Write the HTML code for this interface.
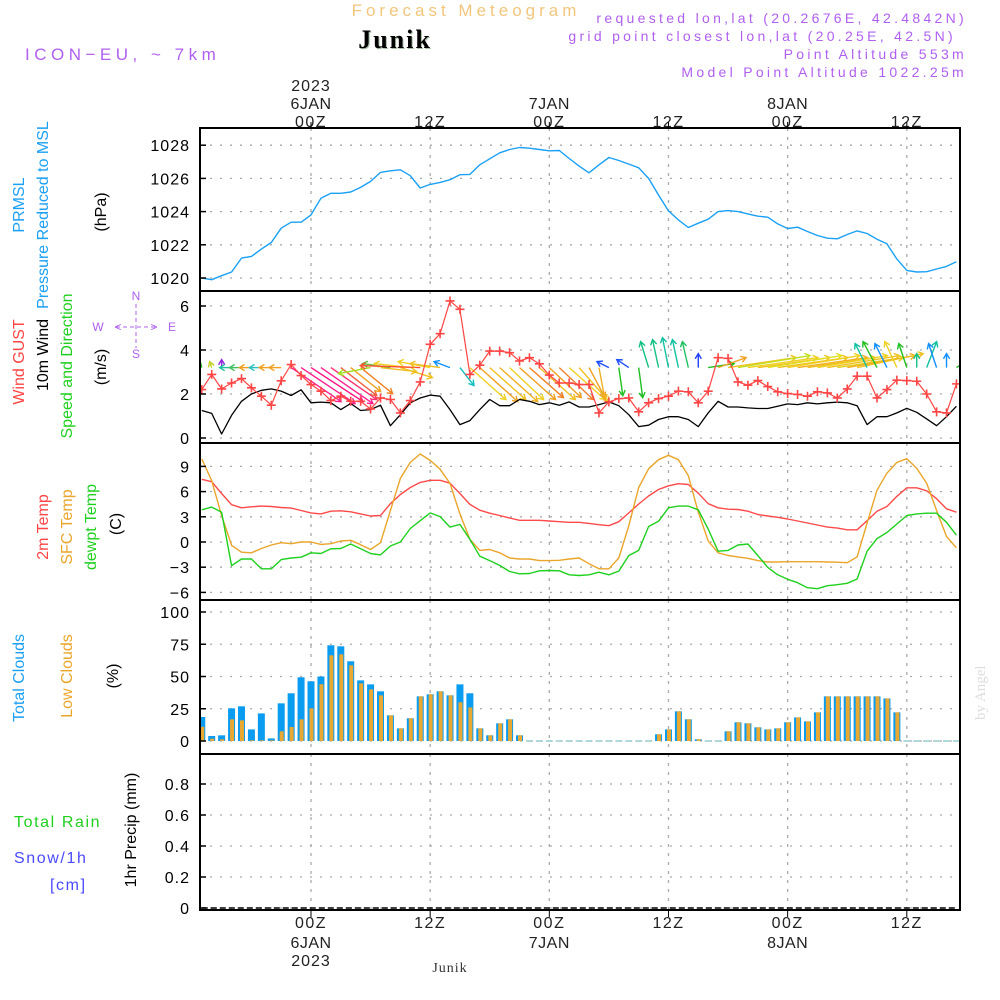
<!DOCTYPE html>
<html><head><meta charset="utf-8"><title>Forecast Meteogram Junik</title>
<style>
html,body{margin:0;padding:0;background:#fff;}
svg{display:block;font-family:"Liberation Sans",sans-serif;}
</style></head>
<body>
<svg id="chart" width="1000" height="1000" viewBox="0 0 1000 1000" xmlns="http://www.w3.org/2000/svg">
<text x="466" y="16" font-size="17" fill="#f2c67c" text-anchor="middle" letter-spacing="4">Forecast Meteogram</text>
<text x="396" y="49" font-size="26" font-weight="bold" font-family="Liberation Serif,serif" fill="#a8c0a8" text-anchor="middle" letter-spacing="2">Junik</text>
<text x="395" y="48" font-size="26" font-weight="bold" font-family="Liberation Serif,serif" fill="#000" text-anchor="middle" letter-spacing="2">Junik</text>
<text x="25" y="60" font-size="17" fill="#b060f0" letter-spacing="4.5">ICON−EU, ~ 7km</text>
<g font-size="14" fill="#b060f0" text-anchor="end" letter-spacing="3.3">
<text x="967" y="23">requested lon,lat (20.2676E, 42.4842N)</text>
<text x="956" y="41">grid point closest lon,lat (20.25E, 42.5N)</text>
<text x="967" y="59">Point Altitude 553m</text>
<text x="967" y="77">Model Point Altitude 1022.25m</text>
</g>
<text x="0" y="0" transform="translate(985,720) rotate(-90)" font-size="15" fill="#ddd" font-family="Liberation Serif,serif">by Angel</text>
<text x="450" y="972" font-size="14" fill="#333" font-family="Liberation Serif,serif" text-anchor="middle" letter-spacing="1">Junik</text>
<g id="labels" font-size="16"></g>
<g id="grid"></g>
<g id="marks"></g>
<g id="frames"></g>
</svg>
<script>
// ---- data (hourly, from 13Z 5JAN to 17Z 8JAN) ----
const hours = [];
for (let h = -11; h <= 65; h++) hours.push(h);
const pressure = [1020.0,1019.9,1020.14,1020.36,1021.2,1021.3,1021.74,1022.14,1023.0,1023.36,1023.36,1023.8,1024.8,1025.1,1025.1,1025.18,1025.46,1025.82,1026.36,1026.46,1026.52,1026.16,1025.42,1025.64,1025.76,1025.92,1026.22,1026.24,1026.82,1027.18,1027.54,1027.74,1027.86,1027.82,1027.74,1027.66,1027.68,1027.2,1026.74,1026.34,1026.82,1027.26,1027.08,1026.86,1026.64,1026.0,1025.0,1024.04,1023.5,1023.04,1023.3,1023.54,1024.0,1024.06,1024.0,1023.86,1023.72,1023.66,1023.26,1022.98,1023.06,1022.8,1022.56,1022.4,1022.36,1022.62,1022.84,1022.68,1022.34,1022.06,1021.14,1020.46,1020.36,1020.38,1020.54,1020.7,1020.98];
const windSpeed = [1.25,1.12,0.18,1.03,1.67,2.0,2.17,2.23,2.13,1.93,2.19,1.6,1.63,1.6,1.29,1.57,1.25,1.29,1.49,0.56,1.06,1.6,1.82,1.95,1.9,1.29,0.61,0.79,1.29,1.75,1.47,1.47,1.75,1.67,1.52,1.6,1.49,1.64,1.41,1.41,1.52,1.64,1.47,1.06,0.52,0.58,0.84,0.97,0.97,0.84,0.52,1.14,1.67,1.41,1.41,1.37,1.34,1.34,1.44,1.55,1.52,1.6,1.55,1.6,1.63,1.6,1.47,0.61,0.97,0.97,1.14,1.35,1.17,0.87,0.56,0.97,1.44];
const windGust = [2.2,2.89,2.23,2.5,2.7,2.28,1.9,1.49,2.6,3.34,2.84,2.43,2.13,1.7,1.9,1.67,1.67,1.32,1.82,1.75,1.14,1.7,2.55,4.26,4.74,6.23,5.85,2.89,3.31,3.95,3.95,3.88,3.5,3.65,3.37,2.86,2.5,2.5,2.43,2.43,1.14,1.64,1.79,1.82,1.19,1.6,1.79,1.9,2.13,2.1,1.6,2.13,3.65,3.62,2.55,2.4,2.61,2.34,2.1,2.02,1.98,1.9,2.1,2.05,1.82,2.23,2.81,2.81,1.82,2.2,2.63,2.61,2.58,2.0,1.19,1.14,2.46];
const windU = [-0.3,-0.1,0,-0.6,-0.6,-0.6,-0.6,-0.6,-0.6,2.5,2.7,2.6,2.6,2.3,1.8,1.5,1.6,-1.6,1.8,-1.4,1.6,-1.8,-3.0,-1.6,-1.5,-0.8,0.7,1.8,1.9,1.8,1.9,1.7,1.8,1.7,1.8,1.6,1.7,1.8,1.5,0.8,0.3,-0.6,0.2,-0.6,0.2,-0.4,-0.3,-0.3,-0.3,-0.3,0,1.3,1.4,3.4,3.6,3.5,3.6,3.7,3.5,3.6,3.5,3.4,3.5,3.6,3.3,3.4,3.3,-0.6,-0.7,-0.6,-0.6,-0.4,0,0.5,-0.4,0,0.6];
const windV = [1.2,0.3,0.4,0,0,0,0,0,0,-1.7,-1.8,-1.7,-1.8,-1.6,-1.4,-1.2,-1.3,-0.3,-0.2,0.2,-0.5,0.2,0.1,0.3,0.2,0.3,-0.9,-1.6,-1.7,-1.6,-1.7,-1.6,-1.6,-1.5,-1.6,-1.5,-1.6,-1.6,-1.7,-1.5,-1.6,0.3,-1.4,0.4,-1.5,1.3,1.4,1.5,1.4,1.3,0.7,0.2,0.5,0.5,0.6,0.5,0.5,0.6,0.5,0.6,0.5,0.5,0.6,0.6,0.5,0.6,0.7,1.2,1.3,1.2,1.3,1.2,0.7,1.3,1.2,0.7,0.4];
const arrowColor = ['#20c020','#c0d020','#9020e0','#20c0a0','#40c060','#f0a020','#30c0c0','#f0a020','#f0a020','#ff2090','#ff2090','#ff1080','#ff2090','#ff3070','#f06040','#f0a020','#f08020','#a0e020','#f0c020','#60c040','#f0c020','#f0d020','#ff5030','#f0d020','#f0c020','#1090ff','#10c0c0','#f0d020','#f0a020','#f0c020','#f0b020','#f0d020','#f0a020','#f08020','#f0c020','#f0a020','#f08030','#f0d020','#f0c020','#f0a020','#f0b020','#2050ff','#20c020','#2050ff','#20c020','#10c080','#10c080','#10c0a0','#10c0a0','#20c060','#2040ff','#20c020','#f0a020','#f0c020','#c0e020','#f0d020','#f0c020','#e0e020','#f0c020','#f0d020','#f0b020','#f0c020','#f0d020','#f0c020','#e0d020','#f0b020','#f0c020','#10c0a0','#20c020','#1090ff','#f0d020','#20c020','#10c080','#10c0a0','#1090ff','#1090ff','#20c020'];
const temp2m = [7.46,7.18,5.77,4.44,4.07,4.19,4.27,4.23,4.11,4.03,3.75,3.47,3.35,3.67,3.71,3.59,3.35,3.1,3.15,4.56,5.65,6.49,7.1,7.34,7.34,7.0,5.77,4.48,3.79,3.43,3.15,2.86,2.58,2.58,2.58,2.5,2.42,2.34,2.34,2.22,2.06,1.94,2.42,3.47,4.52,5.48,6.25,6.69,6.94,6.85,5.81,4.56,4.07,3.91,3.87,3.67,3.27,3.1,2.94,2.74,2.5,2.26,2.02,1.77,1.65,1.45,1.45,2.54,3.67,4.23,5.44,6.45,6.45,6.09,5.16,3.95,3.55];
const tempSfc = [9.88,7.3,3.15,-0.4,-1.21,-1.29,-0.77,-0.36,-0.08,-0.2,0,0,-0.28,-0.2,0.12,0.2,-0.32,-0.89,-0.08,3.75,7.58,9.48,10.48,9.72,8.67,6.98,3.35,0.32,-1.0,-0.89,-1.29,-1.9,-2.02,-2.02,-2.22,-2.22,-2.18,-2.02,-1.9,-2.58,-3.19,-3.19,-1.9,1.94,6.49,8.71,9.8,10.32,9.8,7.9,3.55,0.12,-1.29,-1.61,-1.77,-1.94,-2.22,-2.38,-2.38,-2.35,-2.35,-2.35,-2.35,-2.38,-2.4,-2.46,-1.77,2.26,6.17,8.19,9.48,9.92,8.79,6.98,3.75,0.65,-0.69];
const dewpt = [3.83,4.15,3.55,-2.82,-2.02,-2.02,-3.19,-3.19,-2.1,-1.9,-1.81,-1.29,-1.37,-0.81,-0.77,-0.24,-0.81,-1.37,-1.53,-0.48,0,1.61,2.54,3.47,3.02,1.77,2.1,0.32,-1.69,-2.22,-2.78,-3.51,-3.79,-3.75,-3.43,-3.39,-3.43,-3.91,-3.99,-3.91,-3.59,-3.91,-3.47,-1.61,-1.0,1.85,2.46,4.07,4.27,4.27,3.83,1.53,-1.09,-1.0,-0.36,-0.24,-1.61,-3.02,-3.91,-4.44,-4.84,-5.44,-5.56,-5.2,-5.08,-4.92,-4.4,-1.09,0.4,1.13,2.14,3.15,3.35,3.43,3.43,2.34,0.81];
const cloudTotal = [18.6,3.9,4.4,25.3,26.9,9,21.4,2,29.2,37,49.4,46.3,50,74.2,73.4,61.8,47,43.9,38.5,19.9,9.8,17.6,34.6,36.2,38.5,35.4,43.9,37,9.8,4.4,13.7,16.8,4.4,0,0,0,0,0,0,0,0,0,0,0,0,0,5.2,9,23,16.8,1.3,0,0,7.5,14.5,13.7,10.6,9,9.8,14.5,18.3,15.2,22.2,34.6,34.6,34.6,34.6,34.6,34.6,33,22.2,0,0,0,0,0,0];
const cloudLow = [11,1.8,1.3,16.8,16,0.5,0.5,0.5,7.5,10.9,16.8,25.3,44,66.4,67.2,58.7,44.7,40,35.4,19.9,9.8,17.6,34.6,36.2,38.5,35.4,30,26,9.8,4.4,13.7,16.8,4.4,0,0,0,0,0,0,0,0,0,0,0,0,0,5.2,9,23,16.8,1.3,0,0,7.5,14.5,13.7,10.6,9,9.8,14.5,18.3,15.2,22.2,34.6,34.6,34.6,34.6,34.6,34.6,33,22.2,0,0,0,0,0,0];
const precip = hours.map(() => 0);
const pTicks = [1020,1022,1024,1026,1028];
const wTicks = [0,2,4,6];
const tTicks = [-6,-3,0,3,6,9];
const cTicks = [0,25,50,75,100];
const rTicks = [0,0.2,0.4,0.6,0.8];
const rTickLabels = ['0','0.2','0.4','0.6','0.8'];
const timeGrid = [0,12,24,36,48,60];
const timeLabels = ['00Z','12Z','00Z','12Z','00Z','12Z'];
const dayLabels = ['6JAN','','7JAN','','8JAN',''];

// ---- scales ----
const X0 = 200, X1 = 960;
const xs = h => 311 + h * 9.93;
const yP = v => 278 - (v - 1020) * 16.6;
const yW = v => 438 - v * 22;
const yT = v => 542 - v * 8.4;
const yC = v => 741 - v * 1.29;
const yR = v => 908 - v * 155;
const panels = [[128,291],[291,443],[443,600],[600,754],[754,910]];

const NS = 'http://www.w3.org/2000/svg';
function mk(tag, attrs, parent) {
  const e = document.createElementNS(NS, tag);
  for (const k in attrs) e.setAttribute(k, attrs[k]);
  parent.appendChild(e);
  return e;
}
const grid = document.getElementById('grid');
const marks = document.getElementById('marks');
const frames = document.getElementById('frames');
const labels = document.getElementById('labels');

function yAxis(ticks, sc, texts, name) {
  ticks.forEach((t, i) => {
    const y = sc(t);
    const g = mk('line', {x1: X0, x2: X1, y1: y, y2: y, stroke: '#aaa', 'stroke-width': 1.3, 'stroke-dasharray': '2,8'}, grid);
    
    
    const tk = mk('line', {x1: X0, x2: X0 + 6, y1: y, y2: y, stroke: '#000', 'stroke-width': 1.5}, frames);
    
    
    const tx = mk('text', {x: 190, y: y + 6, 'text-anchor': 'end', 'font-size': 16, fill: '#000', 'letter-spacing': 1}, labels);
    tx.textContent = texts ? texts[i] : String(t);
    
    
  });
}
yAxis(pTicks, yP, null, 'pressure-axis');
yAxis(wTicks, yW, null, 'wind-axis');
yAxis(tTicks, yT, tTicks.map(t => t < 0 ? '−' + (-t) : String(t)), 'temp-axis');
yAxis(cTicks, yC, null, 'cloud-axis');
yAxis(rTicks, yR, rTickLabels, 'precip-axis');

timeGrid.forEach((h, i) => {
  const x = xs(h);
  panels.forEach(p => {
    const g = mk('line', {x1: x, x2: x, y1: p[0], y2: p[1], stroke: '#aaa', 'stroke-width': 1.3, 'stroke-dasharray': '3,6'}, grid);
    
    
  });
  [[128, 122], [910, 917]].forEach(([yy, y2]) => {
    const tk = mk('line', {x1: x, x2: x, y1: yy, y2: y2, stroke: '#000', 'stroke-width': 1}, frames);
    
    
  });
  const t1 = mk('text', {x: x, y: 127, 'text-anchor': 'middle', 'font-size': 16, fill: '#222', 'letter-spacing': 1.5}, labels);
  t1.textContent = timeLabels[i];
  
  
  const t2 = mk('text', {x: x, y: 928, 'text-anchor': 'middle', 'font-size': 16, fill: '#222', 'letter-spacing': 1.5}, labels);
  t2.textContent = timeLabels[i];
  
  
  if (dayLabels[i]) {
    const d1 = mk('text', {x: x, y: 109, 'text-anchor': 'middle', 'font-size': 16, fill: '#222', 'letter-spacing': 0.5}, labels);
    d1.textContent = dayLabels[i];
    
    
    const d2 = mk('text', {x: x, y: 948, 'text-anchor': 'middle', 'font-size': 16, fill: '#222', 'letter-spacing': 0.5}, labels);
    d2.textContent = dayLabels[i];
    
    
  }
});
[[91, 'top-year-label'], [966, 'bottom-year-label']].forEach(([yy, nm]) => {
  const t = mk('text', {x: xs(0), y: yy, 'text-anchor': 'middle', 'font-size': 16, fill: '#222', 'letter-spacing': 1}, labels);
  t.textContent = '2023';
  
  
});

const defs = mk('defs', {}, marks);
const cp = mk('clipPath', {id: 'plotclip'}, defs);
mk('rect', {x: X0, y: 128, width: X1 - X0, height: 782}, cp);
const body = mk('g', {'clip-path': 'url(#plotclip)'}, marks);

function line(vals, sc, color, name, w, dash) {
  const d = vals.map((v, i) => (i ? 'L' : 'M') + xs(hours[i]).toFixed(1) + ',' + sc(v).toFixed(1)).join('');
  const attrs = {d: d, fill: 'none', stroke: color, 'stroke-width': w || 1.4, 'stroke-linejoin': 'round'};
  if (dash) attrs['stroke-dasharray'] = dash;
  const p = mk('path', attrs, body);
  
  
}
line(pressure, yP, '#1aa0f5', 'pressure-line');
hours.forEach((h, i) => {
  const x = xs(h);
  if (cloudTotal[i] > 0) {
    const b = mk('rect', {x: x - 3.5, y: yC(cloudTotal[i]), width: 7, height: yC(0) - yC(cloudTotal[i]), fill: '#0a9cf0'}, body);
    
    
  } else {
    const z = mk('line', {x1: x - 3.5, x2: x + 3.5, y1: yC(0), y2: yC(0), stroke: '#9cc', 'stroke-width': 1.5}, body);
    
    
  }
  if (cloudLow[i] > 0) {
    const b = mk('rect', {x: x - 1.5, y: yC(cloudLow[i]), width: 4, height: yC(0) - yC(cloudLow[i]), fill: '#e8a832'}, body);
    
    
  }
});
const arrowBase = 3.2, arrowScale = 20;
hours.forEach((h, i) => {
  const x0 = xs(h), y0 = yW(arrowBase);
  const x1 = x0 + windU[i] * arrowScale, y1 = y0 - windV[i] * arrowScale;
  const ang = Math.atan2(y1 - y0, x1 - x0);
  const g = mk('g', {stroke: arrowColor[i], 'stroke-width': 1.4, fill: 'none'}, body);
  
  
  mk('line', {x1: x0, y1: y0, x2: x1, y2: y1}, g);
  const a1 = ang + 2.6, a2 = ang - 2.6;
  mk('path', {d: `M${x1 + 6 * Math.cos(a1)},${y1 + 6 * Math.sin(a1)}L${x1},${y1}L${x1 + 6 * Math.cos(a2)},${y1 + 6 * Math.sin(a2)}`}, g);
});
line(windSpeed, yW, '#000', 'wind-speed-line', 1.3);
line(windGust, yW, '#ff4545', 'wind-gust-line', 1.2);
hours.forEach((h, i) => {
  const x = xs(h), y = yW(windGust[i]);
  const m = mk('path', {d: `M${x - 4.5},${y}H${x + 4.5}M${x},${y - 4.5}V${y + 4.5}`, stroke: '#ff4545', 'stroke-width': 1.6}, body);
  
  
});
line(temp2m, yT, '#ff4a4a', 'temp-2m-line');
line(tempSfc, yT, '#eaa52a', 'temp-sfc-line');
line(dewpt, yT, '#1fd01f', 'dewpoint-line');
line(precip, yR, '#000', 'precip-line', 1.5, '6,3');

panels.forEach((p, i) => {
  const r = mk('rect', {x: X0, y: p[0], width: X1 - X0, height: p[1] - p[0], fill: 'none', stroke: '#000', 'stroke-width': 2}, frames);
  
  
});

function vlabel(txt, x, y, color, name, size) {
  const t = mk('text', {x: 0, y: 0, transform: `translate(${x},${y}) rotate(-90)`, 'text-anchor': 'middle', 'font-size': size || 16, fill: color}, labels);
  t.textContent = txt;
  
  
}
vlabel('PRMSL', 24, 205, '#1aa0f5', 'pressure-title');
vlabel('Pressure Reduced to MSL', 48, 215, '#1aa0f5', 'pressure-subtitle');
vlabel('(hPa)', 106, 212, '#000', 'pressure-unit');
vlabel('Wind GUST', 24, 362, '#ff4545', 'gust-title');
vlabel('10m Wind', 48, 355, '#000', 'wind-title');
vlabel('Speed and Direction', 72, 366, '#1fd01f', 'wind-direction-title');
vlabel('(m/s)', 106, 367, '#000', 'wind-unit');
vlabel('2m Temp', 48, 527, '#ff4545', 'temp-2m-title');
vlabel('SFC Temp', 72, 527, '#eaa52a', 'temp-sfc-title');
vlabel('dewpt Temp', 96, 527, '#1fd01f', 'dewpoint-title');
vlabel('(C)', 121, 524, '#000', 'temp-unit');
vlabel('Total Clouds', 24, 678, '#1aa0f5', 'total-cloud-title');
vlabel('Low Clouds', 72, 676, '#eaa52a', 'low-cloud-title');
vlabel('(%)', 118, 676, '#000', 'cloud-unit');
vlabel('1hr Precip (mm)', 136, 830, '#000', 'precip-title');
[['Total  Rain', 14, 827, '#1fd01f', 'rain-legend'], ['Snow/1h', 14, 863, '#4a4aff', 'snow-legend'], ['[cm]', 50, 890, '#4a4aff', 'snow-unit']].forEach(a => {
  const t = mk('text', {x: a[1], y: a[2], 'font-size': 16, fill: a[3], 'letter-spacing': 1.6, 'xml:space': 'preserve'}, labels);
  t.textContent = a[0];
  
  
});
const comp = mk('g', {fill: '#b060f0', 'font-size': 12, 'text-anchor': 'middle'}, labels);


[['N', 136, 300], ['S', 136, 358], ['W', 98, 331], ['E', 172, 331], ['<', 118, 331], ['>', 154, 331]].forEach(a => {
  const t = mk('text', {x: a[1], y: a[2]}, comp);
  t.textContent = a[0];
});
mk('line', {x1: 136, x2: 136, y1: 304, y2: 348, stroke: '#b060f0', 'stroke-dasharray': '4,3'}, comp);
mk('line', {x1: 116, x2: 156, y1: 327, y2: 327, stroke: '#b060f0', 'stroke-dasharray': '4,3'}, comp);
</script>
</body></html>
